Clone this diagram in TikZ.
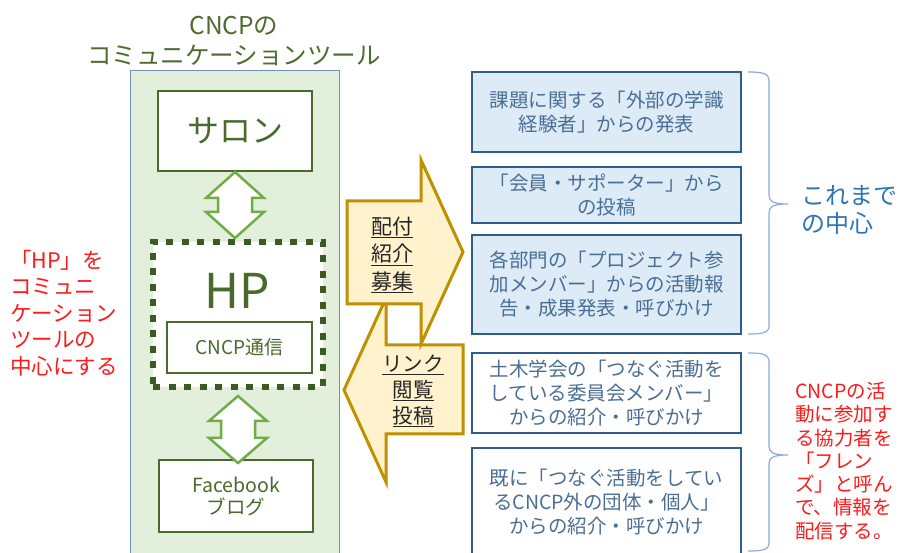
\documentclass[tikz,border=0pt]{standalone}
\usepackage{fontspec}
\setmainfont{Noto Sans CJK JP}
\usetikzlibrary{calc}
\definecolor{titlegreen}{HTML}{4F6B2F}
\definecolor{panelfill}{HTML}{E2EFDA}
\definecolor{panelline}{HTML}{7090C4}
\definecolor{boxgreen}{HTML}{4A6A2C}
\definecolor{dotgreen}{HTML}{3B5A25}
\definecolor{arrowgreen}{HTML}{70AD47}
\definecolor{gold}{HTML}{BF9000}
\definecolor{goldfill}{HTML}{FFF2CC}
\definecolor{bluebox}{HTML}{2F5C8A}
\definecolor{bluefill}{HTML}{DDEBF7}
\definecolor{bluetext}{HTML}{4A6E94}
\definecolor{bracecol}{HTML}{8FAADC}
\definecolor{midblue}{HTML}{2E75B6}
\definecolor{redtxt}{HTML}{FF1A1A}
\newcommand{\fsz}[2]{\fontsize{#1}{#2}\selectfont}
\begin{document}
\begin{tikzpicture}[x=1pt,y=-1pt,
  greenbox/.style={draw=boxgreen,line width=2pt,fill=white,text=boxgreen,inner sep=0pt,align=center},
  dotbox/.style={draw=dotgreen,line width=6pt,dash pattern=on 7pt off 8.5pt,fill=white,inner sep=0pt},
  garrow/.style={draw=arrowgreen,line width=2.5pt,fill=white,line join=miter},
  yarrow/.style={draw=gold,line width=3pt,fill=goldfill,line join=miter},
  bbox/.style={draw=bluebox,line width=2.4pt,text=bluetext,inner sep=0pt,align=center,
    minimum width=269pt,font=\fsz{19.5}{24}},
  bfilled/.style={bbox,fill=bluefill},
  bwhite/.style={bbox,fill=white},
  bracepath/.style={draw=bracecol,line width=1.2pt},
  redlabel/.style={text=redtxt,align=left,inner sep=0pt,anchor=west},
  arrowlabel/.style={text=black!85,align=center,inner sep=0pt}
]
\useasboundingbox (0,0) rectangle (914,553);
\fill[white] (0,0) rectangle (914,553);

% title
\node[text=titlegreen,align=center,font=\fsz{24.5}{29.5}] (title) at (234,41) {CNCPの\\コミュニケーションツール};

% panel
\node[draw=panelline,line width=1pt,fill=panelfill,minimum width=209pt,minimum height=490pt,inner sep=0pt] (panel) at (234.5,316) {};

% boxes in panel
\node[greenbox,minimum width=154pt,minimum height=80pt,font=\fsz{32}{36}] (salon) at (235,131) {サロン};
\node[dotbox,minimum width=170pt,minimum height=145pt] (hp) at (238,314.5) {};
\node[text=boxgreen,font=\fsz{48}{50},inner sep=0pt] (hptext) at (237,291) {HP};
\node[greenbox,minimum width=145pt,minimum height=51pt,font=\fsz{19}{22}] (tsushin) at (239.5,347.5) {CNCP通信};
\node[greenbox,minimum width=154pt,minimum height=72pt,font=\fsz{19.5}{22}] (fb) at (236,496) {Facebook\\ブログ};

% double arrows
\draw[garrow] (salon.south) -- ++(29,26) -- ++(-12,0) -- ++(0,14) -- ++(12,0) -- ++(-29,26)
  -- ++(-29,-26) -- ++(12,0) -- ++(0,-14) -- ++(-12,0) -- cycle;
\draw[garrow] ($(hp.south)+(0,6)$) -- ++(29,25) -- ++(-12,0) -- ++(0,17) -- ++(12,0) -- ++(-29,25)
  -- ++(-29,-25) -- ++(12,0) -- ++(0,-17) -- ++(-12,0) -- cycle;

% left red text
\node[redlabel,font=\fsz{21.5}{26.5}] (lefttxt) at (10,313) {「HP」を\\コミュニ\\ケーション\\ツールの\\中心にする};

% yellow arrows
\draw[yarrow] (344,390) -- (386,298) -- (386,345) -- (463,345) -- (463,434) -- (386,434) -- (386,482) -- cycle;
\draw[yarrow] (347,201) -- (421,201) -- (421,160) -- (463,252) -- (421,344) -- (421,304) -- (347,304) -- cycle;
\node[arrowlabel,font=\fsz{21}{27.5}] (haifu) at (392,255) {\underline{配付}\\\underline{紹介}\\\underline{募集}};
\node[arrowlabel,font=\fsz{20.5}{26}] (link) at (413,391) {\underline{リンク}\\\underline{閲覧}\\\underline{投稿}};

% right boxes
\node[bfilled,minimum height=80pt] (b1) at (606.5,112) {課題に関する「外部の学識\\経験者」からの発表};
\node[bfilled,minimum height=56pt] (b2) at (606.5,195) {「会員・サポーター」から\\の投稿};
\node[bfilled,minimum height=99pt] (b3) at (606.5,284.5) {各部門の「プロジェクト参\\加メンバー」からの活動報\\告・成果発表・呼びかけ};
\node[bwhite,minimum height=80pt] (b4) at (606.5,393) {土木学会の「つなぐ活動を\\している委員会メンバー」\\からの紹介・呼びかけ};
\node[bwhite,minimum height=108pt] (b5) at (606.5,502) {既に「つなぐ活動をしてい\\るCNCP外の団体・個人」\\からの紹介・呼びかけ};

% braces
\coordinate (br1t) at (748,72);
\coordinate (br1b) at (748,334);
\coordinate (br1m) at (788,204);
\draw[bracepath] (br1t) .. controls (762,72) and (769,73) .. (769,81) -- (769,195)
  .. controls (769,201) and (772,204) .. (br1m)
  .. controls (772,204) and (769,207) .. (769,213) -- (769,326)
  .. controls (769,333) and (762,334) .. (br1b);
\coordinate (br2t) at (748,353);
\coordinate (br2b) at (748,551);
\coordinate (br2m) at (788,455);
\draw[bracepath] (br2t) .. controls (762,353) and (769,354) .. (769,362) -- (769,446)
  .. controls (769,452) and (772,455) .. (br2m)
  .. controls (772,455) and (769,458) .. (769,464) -- (769,543)
  .. controls (769,550) and (762,551) .. (br2b);

% right texts
\node[text=midblue,align=left,inner sep=0pt,anchor=west,font=\fsz{24}{28}] (korema) at (801,210) {これまで\\の中心};
\node[redlabel,font=\fsz{19.5}{23.3}] (friends) at (795,461) {CNCPの活\\動に参加す\\る協力者を\\「フレン\\ズ」と呼ん\\で、情報を\\配信する。};
\end{tikzpicture}
\end{document}
